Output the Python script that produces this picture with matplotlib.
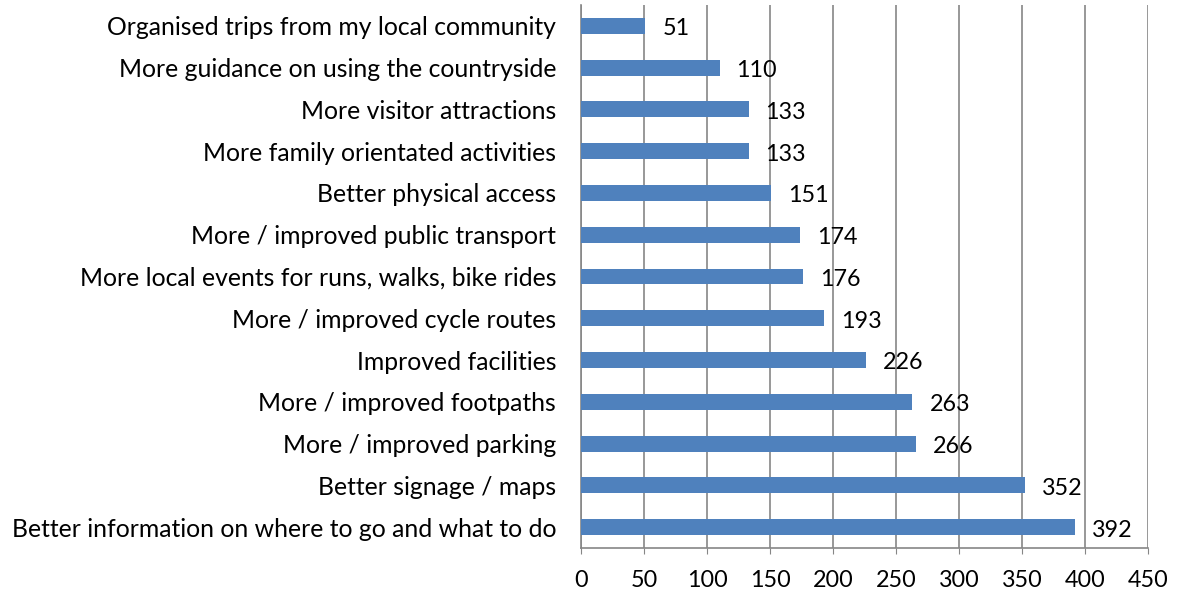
import matplotlib.pyplot as plt

# categorias (de arriba a abajo) y numero de respuestas
categorias = [
    'Organised trips from my local community',
    'More guidance on using the countryside',
    'More visitor attractions',
    'More family orientated activities',
    'Better physical access',
    'More / improved public transport',
    'More local events for runs, walks, bike rides',
    'More / improved cycle routes',
    'Improved facilities',
    'More / improved footpaths',
    'More / improved parking',
    'Better signage / maps',
    'Better information on where to go and what to do',
]
respuestas = [51, 110, 133, 133, 151, 174, 176, 193, 226, 263, 266, 352, 392]
ticks_x = [0, 50, 100, 150, 200, 250, 300, 350, 400, 450]

plt.rcParams['font.family'] = ['Lato', 'DejaVu Sans']

fig = plt.figure(figsize=(11.79, 5.99), dpi=100)
ax = fig.add_axes([0.4928, 0.0851, 0.4809, 0.9066])

pos = list(range(len(categorias)))
ax.barh(pos, respuestas, height=0.38, color='#4F81BD', zorder=3)
ax.set_ylim(len(categorias) - 0.5, -0.5)
ax.set_xlim(0, 450)

# etiquetas de valor al final de cada barra
for y, v in zip(pos, respuestas):
    ax.text(v + 13.5, y + 0.07, str(v), va='center', ha='left', fontsize=16.8, color='black', zorder=4)

ax.set_yticks(pos)
ax.set_yticklabels(categorias, fontsize=17.8)
ax.set_xticks(ticks_x)
ax.set_xticklabels([str(t) for t in ticks_x], fontsize=16.8)

ax.grid(axis='x', color='#868686', linewidth=1.2, zorder=0)
for lado in ['top', 'right']:
    ax.spines[lado].set_visible(False)
for lado in ['left', 'bottom']:
    ax.spines[lado].set_color('#868686')
    ax.spines[lado].set_linewidth(1.2)

ax.tick_params(axis='y', length=0, pad=18)
ax.tick_params(axis='x', length=4, color='#868686', pad=12)

fig.savefig('out.png', dpi=100)
